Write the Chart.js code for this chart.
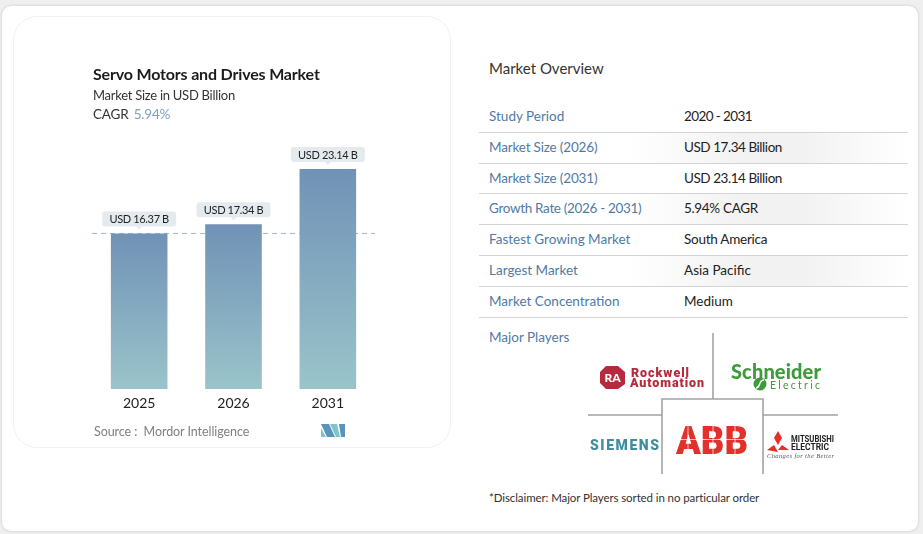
<!DOCTYPE html>
<html>
<head>
<meta charset="utf-8">
<title>Servo Motors and Drives Market</title>
<script src="https://cdn.jsdelivr.net/npm/chart.js@4"></script>
<style>
    html, body { margin: 0; padding: 0; }
    body { width: 923px; height: 534px; background: #efefef; overflow: hidden; font-family: Lato, sans-serif; position: relative; }
    #page { position: absolute; left: 2px; top: 6px; width: 916px; height: 525px; background: #fff; border-radius: 9px; box-shadow: 0 0 3px rgba(0,0,0,.18); }
    #panel { position: absolute; left: 13px; top: 16px; width: 436px; height: 430px; background: #fff; border: 1px solid #f1f1f1; border-radius: 24px; }
    #barChart { position: absolute; left: 13px; top: 16px; }
    .txt { position: absolute; white-space: nowrap; line-height: 1; }
    .row { position: absolute; left: 479px; width: 429px; height: 30px; border-bottom: 1px solid #d4d4d4; }
    .row.shade { background: linear-gradient(90deg, #fff 35%, #f2f2f2 62%, #f2f2f2 75%, #fff 100%); }
    .row span { position: absolute; top: 8px; font-size: 13.5px; line-height: 1; white-space: nowrap; }
    .row:nth-child(3) span { top: 9px; }
    .row .k { left: 10px; color: #4f7ba6; }
    .row .v { left: 205px; color: #222; }
    #logos { position: absolute; left: 0; top: 0; }
</style>
</head>
<body>
<div id="page"></div>
<div id="panel"></div>
<canvas id="barChart" width="437" height="431"></canvas>

<div class="txt" style="left:93px;top:66px;font-size:16px;font-weight:700;color:#1c1c1c;letter-spacing:-0.17px;">Servo Motors and Drives Market</div>
<div class="txt" style="left:93px;top:89px;font-size:13px;color:#333;letter-spacing:-0.27px;">Market Size in USD Billion</div>
<div class="txt" style="left:93px;top:108px;font-size:13.5px;color:#333;letter-spacing:-0.2px;">CAGR <span style="color:#7f9fc0;margin-left:2px;">5.94%</span></div>
<div class="txt" style="left:94px;top:426px;font-size:12.5px;color:#808080;letter-spacing:-0.07px;">Source :&nbsp; Mordor Intelligence</div>

<div class="txt" style="left:489px;top:61px;font-size:15px;color:#333;">Market Overview</div>
<div id="rows"></div>
<div class="txt" style="left:489px;top:331px;font-size:13.5px;color:#4f7ba6;">Major Players</div>
<div class="txt" style="left:489px;top:492px;font-size:11.5px;color:#333;letter-spacing:-0.1px;">*Disclaimer: Major Players sorted in no particular order</div>

<svg id="logos" width="923" height="534" xmlns="http://www.w3.org/2000/svg">
    <g fill="none" stroke="#a3a3a3" stroke-width="1.6">
        <path d="M713 333V399"/>
        <path d="M662 474V399H763V474"/>
        <path d="M588 415H662M763 415H838"/>
    </g>
    <polygon points="606,366 618,366 625,372 625,384 618,389 606,389 600,383 600,372" fill="#b62a3e"/>
    <text x="612.5" y="382" font-family="Lato" font-weight="900" font-size="12" fill="#fff" text-anchor="middle">RA</text>
    <text x="631" y="377" font-family="Roboto" font-weight="900" font-size="12.5" fill="#b62a3e" textLength="58">Rockwell</text>
    <text x="630" y="387" font-family="Roboto" font-weight="900" font-size="12.5" fill="#b62a3e" textLength="74">Automation</text>
    <text x="731" y="379" font-family="Lato" font-weight="900" font-size="20" fill="#3f9a3c" textLength="90">Schneider</text>
    <circle cx="760" cy="384" r="6.5" fill="#3f9a3c"/>
    <path d="M756 388C761 388 758 380 764 380" fill="none" stroke="#fff" stroke-width="1.5"/>
    <text x="770" y="389" font-family="Lato" font-size="10.5" fill="#3f9a3c" textLength="50">Electric</text>
    <text x="590" y="450" font-family="Roboto" font-weight="900" font-size="14" fill="#3f8e9f" textLength="69">SIEMENS</text>
    <text x="676" y="454" font-family="Roboto" font-weight="900" font-size="38" fill="#e2302a" textLength="72" lengthAdjust="spacingAndGlyphs">ABB</text>
    <g stroke="#fff" stroke-width="0.7">
        <path d="M676 439.5H748"/>
        <path d="M688 426V454M713 426V454M735 426V454"/>
    </g>
    <g fill="#e2302a">
        <polygon points="778,431 782,438 778,445 774,438"/>
        <polygon points="774,445 778,452 767,450"/>
        <polygon points="782,445 789,450 778,450"/>
    </g>
    <text x="791" y="442" font-family="Roboto" font-weight="700" font-size="9" fill="#222" textLength="43" lengthAdjust="spacingAndGlyphs">MITSUBISHI</text>
    <text x="791" y="450" font-family="Roboto" font-weight="700" font-size="9" fill="#222" textLength="38" lengthAdjust="spacingAndGlyphs">ELECTRIC</text>
    <text x="767" y="458" font-family="Liberation Serif" font-style="italic" font-size="6.5" fill="#555" textLength="67">Changes for the Better</text>
    <polygon points="321,424 329,424 335,437 327,437" fill="#5b93bd"/>
    <polygon points="321,428 326,437 321,437" fill="#7cc5cf"/>
    <polygon points="330,424 337,424 340,437 336,437" fill="#7cc5cf"/>
    <polygon points="339,424 345,424 345,437 341,437" fill="#5b93bd"/>
</svg>

<script>
const categories = ['2025', '2026', '2031'];
const marketSize = [16.37, 17.34, 23.14];
const valueLabels = ['USD 16.37 B', 'USD 17.34 B', 'USD 23.14 B'];

const overviewKeys = ['Study Period', 'Market Size (2026)', 'Market Size (2031)', 'Growth Rate (2026 - 2031)', 'Fastest Growing Market', 'Largest Market', 'Market Concentration'];
const overviewValues = ['2020 - 2031', 'USD 17.34 Billion', 'USD 23.14 Billion', '5.94% CAGR', 'South America', 'Asia Pacific', 'Medium'];

// row layout, the letter spacing evens out the digit widths of the font
const rowTops = [102, 133, 163, 194, 225, 256, 287];
const keySpacing = [0, -0.17, -0.17, -0.33, 0, 0, 0];
const valueSpacing = [-0.6, -0.45, -0.45, -0.33, -0.25, 0, 0];

document.getElementById('rows').innerHTML = overviewKeys.map((key, i) =>
    `<div class="row${i % 2 ? ' shade' : ''}" style="top:${rowTops[i]}px"><span class="k" style="letter-spacing:${keySpacing[i]}px">${key}</span><span class="v" style="letter-spacing:${valueSpacing[i]}px">${overviewValues[i]}</span></div>`
).join('');

// dashed reference line at the first bar's height
const baseLine = {
    id: 'baseLine',
    beforeDatasetsDraw(chart) {
        const { ctx, chartArea, scales } = chart;
        const y = scales.y.getPixelForValue(marketSize[0]);
        ctx.save();
        ctx.strokeStyle = '#9db8c9';
        ctx.lineWidth = 1;
        ctx.setLineDash([5, 4]);
        ctx.beginPath();
        ctx.moveTo(chartArea.left, y);
        ctx.lineTo(chartArea.right, y);
        ctx.stroke();
        ctx.restore();
    }
};

// pill labels above the bars
const pillLabels = {
    id: 'pillLabels',
    afterDatasetsDraw(chart) {
        const { ctx } = chart;
        chart.getDatasetMeta(0).data.forEach((bar, i) => {
            const w = 74, h = 15;
            const bottom = bar.y - 7;
            ctx.save();
            ctx.fillStyle = '#e4ebef';
            ctx.beginPath();
            ctx.roundRect(bar.x - w / 2, bottom - h, w, h, 3);
            ctx.fill();
            ctx.beginPath();
            ctx.moveTo(bar.x - 3, bottom);
            ctx.lineTo(bar.x + 3, bottom);
            ctx.lineTo(bar.x, bottom + 3);
            ctx.fill();
            ctx.fillStyle = '#222';
            ctx.font = '11px Lato';
            ctx.letterSpacing = '-0.35px';
            ctx.textAlign = 'center';
            ctx.textBaseline = 'middle';
            ctx.fillText(valueLabels[i], bar.x, bottom - h / 2 + 0.5);
            ctx.restore();
        });
    }
};

const barCtx = document.getElementById('barChart').getContext('2d');
new Chart(barCtx, {
    type: 'bar',
    data: {
        labels: categories,
        datasets: [{
            data: marketSize,
            backgroundColor: (context) => {
                const { chart, dataIndex } = context;
                if (!chart.chartArea) return '#7f9fbb';
                const top = chart.scales.y.getPixelForValue(marketSize[dataIndex]);
                const g = chart.ctx.createLinearGradient(0, top, 0, chart.chartArea.bottom);
                g.addColorStop(0, '#7092b6');
                g.addColorStop(1, '#9ac4ca');
                return g;
            },
            barPercentage: 0.6,
            categoryPercentage: 1
        }]
    },
    options: {
        responsive: false,
        animation: false,
        layout: { padding: { left: 79, right: 75, top: 124, bottom: 0 } },
        scales: {
            x: {
                grid: { display: false, drawTicks: false },
                border: { display: false },
                ticks: { color: '#222', font: { family: 'Lato', size: 14 }, padding: 6 },
                afterFit: (scale) => { scale.height = 58; }
            },
            y: { display: false, min: 0, max: 26.2 }
        },
        plugins: {
            legend: { display: false },
            tooltip: { enabled: false }
        }
    },
    plugins: [baseLine, pillLabels]
});
</script>
</body>
</html>
